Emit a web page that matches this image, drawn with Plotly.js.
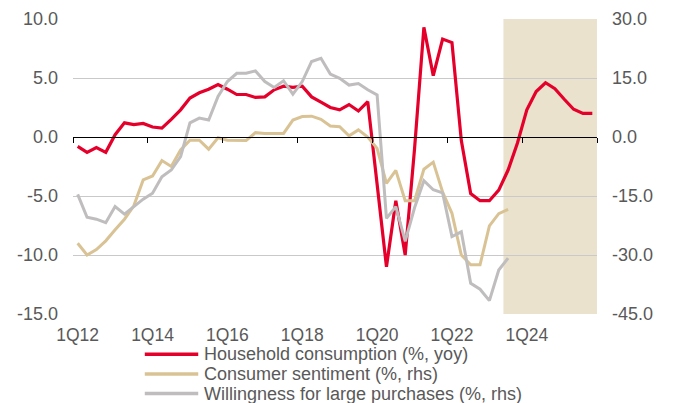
<!DOCTYPE html>
<html><head><meta charset="utf-8">
<script src="https://cdn.plot.ly/plotly-3.0.1.min.js"></script>
<style>html,body{margin:0;padding:0;background:#fff}#chart{width:673px;height:403px}</style>
</head><body><div id="chart"></div>
<script>
const quarters = ["1Q12","2Q12","3Q12","4Q12","1Q13","2Q13","3Q13","4Q13","1Q14","2Q14","3Q14","4Q14",
"1Q15","2Q15","3Q15","4Q15","1Q16","2Q16","3Q16","4Q16","1Q17","2Q17","3Q17","4Q17",
"1Q18","2Q18","3Q18","4Q18","1Q19","2Q19","3Q19","4Q19","1Q20","2Q20","3Q20","4Q20",
"1Q21","2Q21","3Q21","4Q21","1Q22","2Q22","3Q22","4Q22","1Q23","2Q23","3Q23","4Q23",
"1Q24","2Q24","3Q24","4Q24","1Q25","2Q25","3Q25","4Q25"];

const householdConsumption = [-0.8,-1.3,-0.9,-1.3,0.2,1.2,1.05,1.15,0.85,0.75,1.5,2.3,
3.3,3.75,4.05,4.45,4.05,3.6,3.6,3.35,3.4,4.0,4.3,4.2,
4.3,3.4,2.95,2.5,2.3,2.75,2.2,3.0,-4.0,-11.0,-5.4,-10.0,
-1.0,9.3,5.2,8.3,8.0,-0.3,-4.8,-5.4,-5.4,-4.5,-2.8,-0.5,
2.3,3.85,4.6,4.1,3.2,2.35,2.0,2.0];

const consumerSentiment = [-27.0,-30.0,-28.6,-26.4,-23.6,-20.9,-17.5,-10.9,-9.9,-6.0,-7.5,-3.3,
-0.8,-0.8,-3.1,-0.2,-0.8,-0.9,-0.9,1.1,0.9,0.9,0.9,4.3,
5.2,5.3,4.5,2.8,2.6,0.3,1.8,0.0,-2.9,-11.8,-8.5,-16.2,
-16.2,-8.2,-6.4,-14.0,-19.4,-30.0,-32.5,-32.5,-22.6,-19.5,-18.4];

const largePurchases = [-14.6,-20.4,-20.9,-21.8,-17.7,-19.6,-17.7,-15.8,-14.3,-10.1,-8.4,-5.0,
3.6,4.8,4.3,10.3,14.1,16.2,16.2,16.8,14.1,12.6,14.3,10.9,
14.1,19.2,20.0,16.0,14.9,13.2,13.6,12.0,10.7,-20.7,-17.7,-26.5,
-18.0,-11.1,-13.4,-14.2,-25.3,-24.1,-37.2,-38.7,-41.6,-33.8,-30.8];

const seriesNames = ["Household consumption (%, yoy)","Consumer sentiment (%, rhs)","Willingness for large purchases (%, rhs)"];
const seriesColors = ["#E4002B","#D9C395","#BFBDBD"];
const leftTicks = [-15,-10,-5,0,5,10];
const rightTicks = [-45,-30,-15,0,15,30];
const xTickLabels = ["1Q12","1Q14","1Q16","1Q18","1Q20","1Q22","1Q24"];
const forecastStart = "3Q23";

const FONT = "Liberation Sans, Arial, sans-serif";
const TXT = "#595959";
const FS = 18;

const traces = [
  {x: quarters, y: householdConsumption, name: seriesNames[0], type: "scatter", mode: "lines",
   line: {color: seriesColors[0], width: 3.2}, yaxis: "y", xaxis: "x", showlegend: false},
  {x: quarters.slice(0, consumerSentiment.length), y: consumerSentiment, name: seriesNames[1], type: "scatter", mode: "lines",
   line: {color: seriesColors[1], width: 3}, yaxis: "y2", xaxis: "x", showlegend: false},
  {x: quarters.slice(0, largePurchases.length), y: largePurchases, name: seriesNames[2], type: "scatter", mode: "lines",
   line: {color: seriesColors[2], width: 3}, yaxis: "y2", xaxis: "x", showlegend: false},
  {x: [], y: [], xaxis: "x2", yaxis: "y", showlegend: false, hoverinfo: "skip"}
];

const n = quarters.length;
const fIdx = quarters.indexOf(forecastStart);

// custom legend (sample lines + text), paper coords
const legendX0 = 0.137, legendX1 = 0.239, legendTextX = 0.248;
const legendY = [-0.1366, -0.2031, -0.2695];
const shapes = [
  {type: "rect", xref: "x2", yref: "paper", x0: fIdx - 0.5, x1: n - 0.5, y0: 0, y1: 1,
   fillcolor: "#EAE2CC", line: {width: 0}, layer: "below"}
];
const annotations = [];
seriesNames.forEach((nm, k) => {
  shapes.push({type: "line", xref: "paper", yref: "paper", x0: legendX0, x1: legendX1,
    y0: legendY[k], y1: legendY[k], line: {color: seriesColors[k], width: 3.5}});
  annotations.push({xref: "paper", yref: "paper", x: legendTextX, y: legendY[k], xanchor: "left", yanchor: "middle",
    text: nm, showarrow: false, font: {family: FONT, size: 18, color: TXT}, borderpad: 0});
});

const layout = {
  width: 673, height: 403,
  margin: {l: 73, r: 76, t: 19, b: 89, pad: 0},
  paper_bgcolor: "#ffffff", plot_bgcolor: "rgba(0,0,0,0)",
  font: {family: FONT, size: FS, color: TXT},
  showlegend: false,
  xaxis: {
    type: "category", categoryorder: "array", categoryarray: quarters,
    range: [-0.5, n - 0.5], tickmode: "array", tickvals: xTickLabels, ticktext: xTickLabels,
    showgrid: false, zeroline: false, showline: false, ticks: "", ticklabelstandoff: 8,
    tickfont: {family: FONT, size: 17.5, color: TXT}, fixedrange: true
  },
  xaxis2: {
    overlaying: "x", anchor: "free", position: 15 / 25, range: [-0.5, n - 0.5],
    tickmode: "linear", tick0: -0.5, dtick: 8, ticks: "outside", ticklen: 5, tickwidth: 1, tickcolor: "#000",
    showticklabels: false, showgrid: false, zeroline: false, showline: true, linecolor: "#000", linewidth: 1
  },
  yaxis: {
    range: [-15, 10], tickmode: "array", tickvals: leftTicks, ticktext: leftTicks.map(v => v.toFixed(1)),
    showgrid: true, gridcolor: "#C9C9C9", gridwidth: 1, zeroline: false, showline: false, ticks: "",
    ticklabelstandoff: 14, tickfont: {family: FONT, size: FS, color: TXT}
  },
  yaxis2: {
    overlaying: "y", side: "right", range: [-45, 30], tickmode: "array", tickvals: rightTicks,
    ticktext: rightTicks.map(v => v.toFixed(1)), showgrid: false, zeroline: false, showline: false, ticks: "",
    ticklabelstandoff: 14, tickfont: {family: FONT, size: FS, color: TXT}
  },
  shapes: shapes,
  annotations: annotations
};

Plotly.newPlot("chart", traces, layout, {staticPlot: true, displayModeBar: false});
</script>
</body></html>
